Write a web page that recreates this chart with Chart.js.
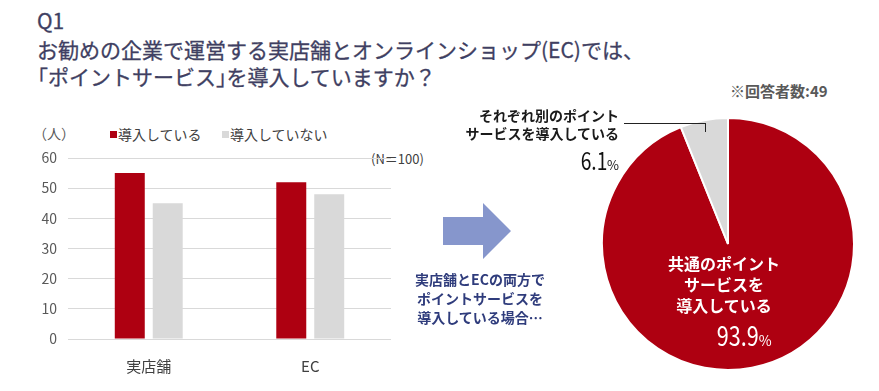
<!DOCTYPE html>
<html lang="ja">
<head>
<meta charset="utf-8">
<title>ポイントサービス</title>
<script src="https://cdn.jsdelivr.net/npm/chart.js@4/dist/chart.umd.min.js"></script>
<style>
  body { margin: 0; background: #fff; }
  #wrap { position: relative; width: 879px; height: 391px; overflow: hidden; background: #fff;
          font-family: "Noto Sans CJK JP", "Noto Sans", sans-serif; }
  .t { position: absolute; white-space: nowrap; line-height: 1; }
  .title { left: 37px; font-size: 21px; font-weight: 400; color: #3f3f62; -webkit-text-stroke: 0.3px #3f3f62; }
  .num { display: inline-block; transform: scaleX(0.8); transform-origin: right center; }
  .half { letter-spacing: -0.5em; }
  canvas { position: absolute; }
</style>
</head>
<body>
<div id="wrap">
  <div class="t title" style="top:10px;">Q1</div>
  <div class="t title" style="top:39px;">お勧めの企業で運営する実店舗とオンラインショップ(EC)では、</div>
  <div class="t title" style="top:66px;left:27px;">「ポイントサービス<span class="half">」</span>を導入していますか？</div>

  <div class="t" style="left:33px;top:126px;font-size:14px;color:#595959;">（人）</div>
  <div id="legend"></div>
  <div class="t" style="left:369px;top:152px;font-size:13px;color:#404040;background:#fff;padding-left:2px;">(N＝100)</div>

  <canvas id="barChart" width="420" height="265" style="left:0;top:110px;"></canvas>

  <svg style="position:absolute;left:443px;top:203px;" width="70" height="58">
    <polygon points="0,14 40,14 40,0 68,28 40,56 40,42 0,42" fill="#8696cc"/>
  </svg>
  <div class="t" style="left:480px;top:270px;transform:translateX(-50%);text-align:center;font-size:14px;font-weight:bold;color:#2f3c7c;line-height:19px;">
    実店舗とECの両方で<br>ポイントサービスを<br>導入している場合…
  </div>

  <div class="t" style="left:730px;top:83px;font-size:15px;font-weight:600;color:#595959;">※回答者数:49</div>

  <canvas id="pieChart" width="256" height="256" style="left:600px;top:116px;"></canvas>

  <div class="t" style="right:260px;top:106px;text-align:right;font-size:14px;font-weight:bold;color:#1a1a1a;line-height:18px;">
    それぞれ別のポイント<br>サービスを導入している
  </div>
  <div style="position:absolute;left:624px;top:123px;width:81px;height:8px;border-top:1px solid #222;border-right:1px solid #222;"></div>
  <div class="t" style="right:260px;top:148px;color:#111;"><span class="num" id="smallPct" style="font-size:24px;"></span><span style="font-size:13px;">%</span></div>

  <div class="t" style="left:724px;top:253px;transform:translateX(-50%);text-align:center;font-size:16px;font-weight:bold;color:#fff;line-height:21px;">
    共通のポイント<br>サービスを<br>導入している
  </div>
  <div class="t" style="left:739px;top:321px;transform:translateX(-50%);color:#fff;"><span class="num" id="bigPct" style="font-size:27px;"></span><span style="font-size:14px;">%</span></div>
</div>

<script>
// 棒グラフのデータ
var categories = ['実店舗', 'EC'];
var seriesNames = ['導入している', '導入していない'];
var introduced = [55, 52];
var notIntroduced = [45, 48];
var yTicks = [0, 10, 20, 30, 40, 50, 60];

// 円グラフのデータ
var pieLabels = ['共通のポイントサービスを導入している', 'それぞれ別のポイントサービスを導入している'];
var pieValues = [93.9, 6.1];

var red = '#ae0011';
var gray = '#d9d9d9';
var seriesColors = [red, gray];

// 凡例（HTML）
var legendPos = [110, 222];
var legendHtml = '';
seriesNames.forEach(function(name, i) {
  legendHtml += '<div style="position:absolute;left:' + legendPos[i] + 'px;top:131px;width:7px;height:7px;background:' + seriesColors[i] + ';"></div>';
  legendHtml += '<div class="t" style="left:' + (legendPos[i] + 8) + 'px;top:127px;font-size:14px;color:#404040;">' + name + '</div>';
});
document.getElementById('legend').innerHTML = legendHtml;

document.getElementById('smallPct').textContent = pieValues[1].toFixed(1);
document.getElementById('bigPct').textContent = pieValues[0].toFixed(1);

Chart.defaults.font.family = '"Noto Sans CJK JP", "Noto Sans", sans-serif';

// 棒グラフ
new Chart(document.getElementById('barChart').getContext('2d'), {
  type: 'bar',
  data: {
    labels: categories,
    datasets: [
      { label: seriesNames[0], data: introduced, backgroundColor: red,
        categoryPercentage: 0.47, barPercentage: 0.79 },
      { label: seriesNames[1], data: notIntroduced, backgroundColor: gray,
        categoryPercentage: 0.47, barPercentage: 0.79 }
    ]
  },
  options: {
    responsive: false,
    animation: false,
    layout: { padding: { top: 48, right: 29, left: 0, bottom: 0 } },
    plugins: { legend: { display: false }, tooltip: { enabled: false } },
    scales: {
      x: {
        grid: { display: false },
        border: { display: false },
        ticks: { font: { size: 15 }, color: '#404040', padding: 10 },
        afterFit: function(s) { s.height = 36; }
      },
      y: {
        min: 0,
        max: 60,
        afterBuildTicks: function(s) { s.ticks = yTicks.map(function(v) { return { value: v }; }); },
        ticks: { font: { size: 14 }, color: '#595959', padding: 11 },
        grid: { color: gray, drawTicks: false },
        border: { display: false },
        afterFit: function(s) { s.width = 68; }
      }
    }
  }
});

// 円グラフ
new Chart(document.getElementById('pieChart').getContext('2d'), {
  type: 'pie',
  data: {
    labels: pieLabels,
    datasets: [{
      data: pieValues,
      backgroundColor: [red, gray],
      borderColor: '#fff',
      borderWidth: 2
    }]
  },
  options: {
    responsive: false,
    animation: false,
    radius: 126,
    plugins: { legend: { display: false }, tooltip: { enabled: false } }
  }
});
</script>
</body>
</html>
